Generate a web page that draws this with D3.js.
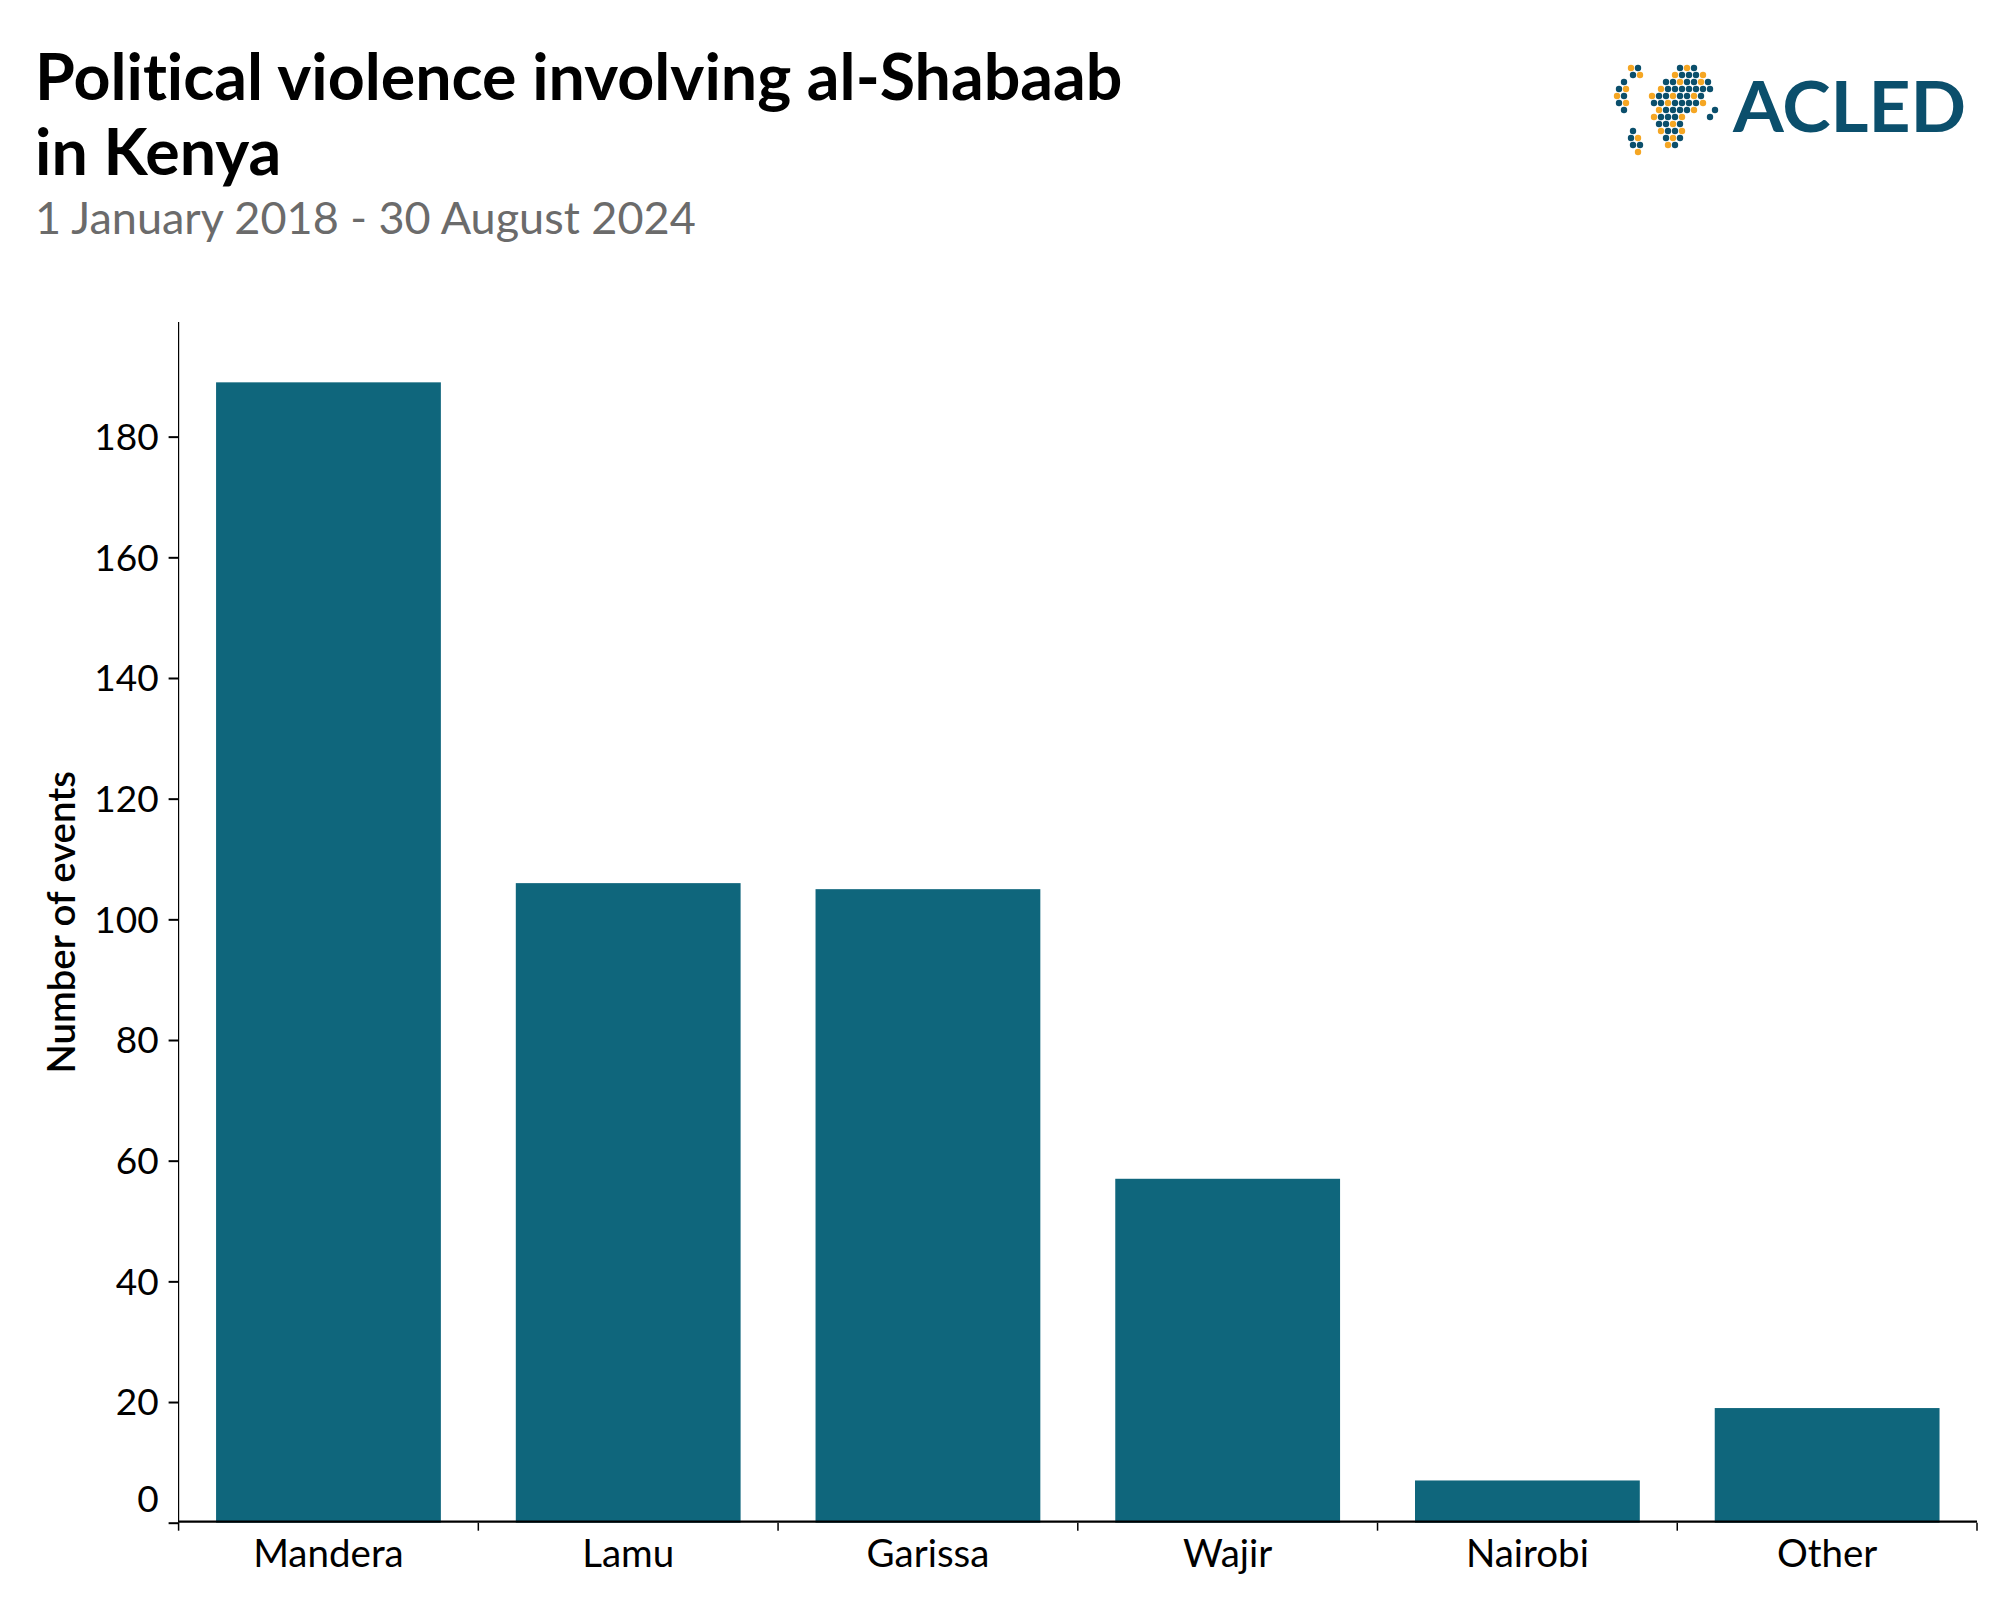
<!DOCTYPE html>
<html>
<head>
<meta charset="utf-8">
<script src="https://cdn.jsdelivr.net/npm/d3@7"></script>
<style>
  html, body { margin: 0; padding: 0; background: #ffffff; }
  svg { display: block; font-family: Lato, "Noto Sans", sans-serif; font-variant-ligatures: none; }
</style>
</head>
<body>
<svg id="chart" width="2000" height="1600"></svg>
<script>
// ---- data ----
const categories = ["Mandera", "Lamu", "Garissa", "Wajir", "Nairobi", "Other"];
const eventCounts = [189, 106, 105, 57, 7, 19];
const yTicks = [0, 20, 40, 60, 80, 100, 120, 140, 160, 180];
const yDomainMax = 199;
const titleLines = ["Political violence involving al-Shabaab", "in Kenya"];
const subtitle = "1 January 2018 - 30 August 2024";
const yAxisTitle = "Number of events";
const logoText = "ACLED";
// logo dot pattern (b = blue, o = orange)
const logoRows = [
  "..ob.....bob...",
  "..bo....obbbo..",
  ".b.....bbobbob.",
  "bo....obbbbbbb.",
  "ob...obbobbob..",
  "bo...bbobbbbo..",
  ".b....obbbbo..b",
  ".....obbbo...b.",
  "......bbob.....",
  "..b...obbo.....",
  "..bo...bob.....",
  "..bb...ob......",
  "...o..........."
];

// ---- layout ----
const W = 2000, H = 1600;
const plot = { left: 178.6, right: 1977, top: 322, bottom: 1522.7 };
const barColor = "#0f667c";

const svg = d3.select("#chart");

const x = d3.scaleBand()
  .domain(categories)
  .range([plot.left, plot.right])
  .paddingInner(0.25)
  .paddingOuter(0.125);

const y = d3.scaleLinear()
  .domain([0, yDomainMax])
  .range([plot.bottom, plot.top]);

// bars
svg.append("g")
  .selectAll("rect")
  .data(categories.map((c, i) => ({ c, v: eventCounts[i] })))
  .join("rect")
  .attr("x", d => x(d.c))
  .attr("width", x.bandwidth())
  .attr("y", d => y(d.v))
  .attr("height", d => y(0) - y(d.v))
  .attr("fill", barColor);

// y axis
const yAxis = d3.axisLeft(y).tickValues(yTicks).tickSize(10).tickPadding(10).tickFormat(d3.format("d"));
const gy = svg.append("g").attr("transform", `translate(${plot.left},0)`).call(yAxis);
gy.select(".domain").attr("d", `M0,${plot.top}V${plot.bottom}`).attr("stroke", "#000").attr("stroke-width", 1.2);
gy.selectAll(".tick line").attr("stroke", "#000").attr("stroke-width", 2);
gy.selectAll(".tick text")
  .attr("font-family", "Lato, sans-serif")
  .attr("font-size", 37)
  .attr("fill", "#000")
  .attr("dy", d => d === 0 ? "-0.3em" : "0.35em");

// x axis
const xTickPositions = categories.map(c => x(c) - x.step() * x.paddingInner() / 2);
xTickPositions.push(plot.right);
const gx = svg.append("g").attr("transform", `translate(0,${y(0)})`);
gx.append("line")
  .attr("x1", plot.left).attr("x2", plot.right)
  .attr("y1", -1).attr("y2", -1)
  .attr("stroke", "#000").attr("stroke-width", 2.2);
gx.selectAll("line.xt")
  .data(xTickPositions)
  .join("line")
  .attr("class", "xt")
  .attr("x1", d => d).attr("x2", d => d)
  .attr("y1", 0).attr("y2", 8)
  .attr("stroke", "#000").attr("stroke-width", 1.5);
gx.selectAll("text")
  .data(categories)
  .join("text")
  .attr("x", d => x(d) + x.bandwidth() / 2)
  .attr("y", 44)
  .attr("text-anchor", "middle")
  .attr("font-family", "Lato, sans-serif")
  .attr("font-size", 38.5)
  .attr("fill", "#000")
  .text(d => d);

// y axis title
svg.append("text")
  .attr("transform", `translate(75,${(plot.top + plot.bottom) / 2}) rotate(-90)`)
  .attr("text-anchor", "middle")
  .attr("font-family", "Lato, sans-serif")
  .attr("font-weight", 600)
  .attr("font-size", 38.3)
  .attr("fill", "#000")
  .text(yAxisTitle);

// titles
svg.selectAll("text.title")
  .data(titleLines)
  .join("text")
  .attr("class", "title")
  .attr("x", 35)
  .attr("y", (d, i) => 100 + i * 75)
  .attr("font-family", "Lato, sans-serif")
  .attr("font-weight", 700)
  .attr("font-size", 64.5)
  .attr("fill", "#000")
  .text(d => d);

svg.append("text")
  .attr("x", 35)
  .attr("y", 234)
  .attr("font-family", "Lato, sans-serif")
  .attr("font-size", 45)
  .attr("fill", "#6b6b6b")
  .text(subtitle);

// logo
const logo = svg.append("g");
const dots = [];
logoRows.forEach((row, r) => {
  row.split("").forEach((ch, c) => {
    if (ch !== ".") dots.push({ r, c, ch });
  });
});
logo.selectAll("circle")
  .data(dots)
  .join("circle")
  .attr("cx", d => 1617 + d.c * 7 + (d.r % 2) * 2)
  .attr("cy", d => 68 + d.r * 7)
  .attr("r", 3.2)
  .attr("fill", d => d.ch === "o" ? "#f5a623" : "#0b4f6c");
logo.append("text")
  .attr("x", 1733)
  .attr("y", 132)
  .attr("font-family", "Lato, sans-serif")
  .attr("font-weight", 700)
  .attr("font-size", 70)
  .attr("textLength", 233)
  .attr("lengthAdjust", "spacingAndGlyphs")
  .attr("fill", "#0b4f6c")
  .text(logoText);
</script>
</body>
</html>
